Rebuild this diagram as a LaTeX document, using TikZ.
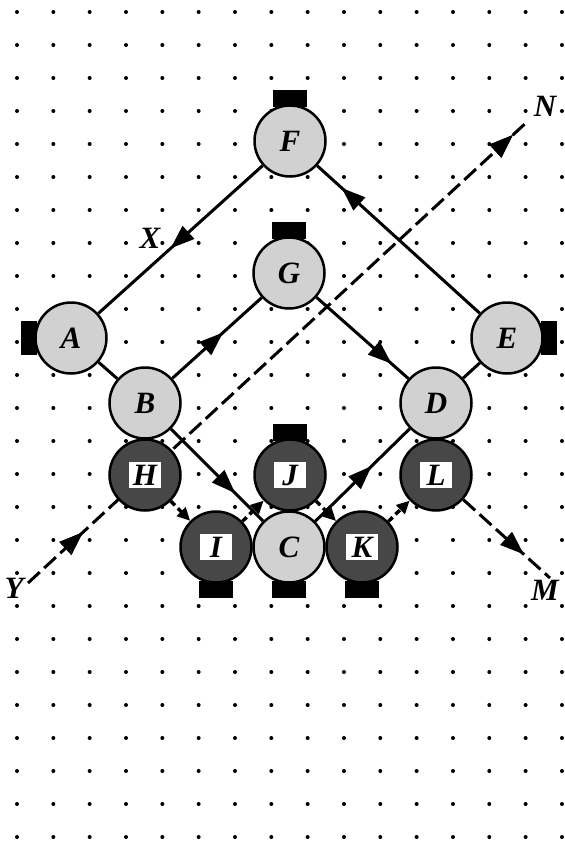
\documentclass[tikz,border=0pt]{standalone}
\usepackage{fontspec}
\setmainfont{Liberation Serif}
\usetikzlibrary{arrows.meta,decorations.markings}
\pgfdeclarelayer{background}
\pgfsetlayers{background,main}
\begin{document}
\begin{tikzpicture}[x=1pt,y=-1pt,
  lettr/.style={font=\fontsize{31}{31}\selectfont\bfseries\itshape},
  lite/.style={circle,draw=black,line width=2.5pt,fill=black!18,minimum size=71pt,inner sep=0pt,lettr},
  dark/.style={circle,draw=black,line width=2.5pt,fill=black!72,minimum size=71pt,inner sep=0pt},
  tagbox/.style={fill=white,inner sep=0pt,minimum width=32pt,minimum height=26pt,lettr},
  caph/.style={fill=black,inner sep=0pt,minimum width=34pt,minimum height=17pt},
  capv/.style={fill=black,inner sep=0pt,minimum width=16pt,minimum height=34pt},
  edgeline/.style={line width=3pt},
  longdash/.style={line width=3pt,dash pattern=on 16pt off 6pt},
  shortdash/.style={line width=3.5pt,dash pattern=on 6pt off 4pt,-{Triangle[length=13pt,width=12pt]}},
  midarrow/.style={postaction={decorate},decoration={markings,mark=at position #1 with {\arrow{Triangle[length=24pt,width=17pt]}}}},
  lbl/.style={lettr,inner sep=0pt}
]
\useasboundingbox (0,0) rectangle (565,841);

% nodes
\node[lite] (F) at (290,141) {F};
\node[lite] (G) at (289,273) {G};
\node[lite] (A) at (71,338) {A};
\node[lite] (E) at (507,338) {E};
\node[lite] (B) at (145,403) {B};
\node[lite] (D) at (436,403) {D};
\node[dark] (H) at (145,475) {};
\node[dark] (J) at (290,475) {};
\node[dark] (L) at (436,475) {};
\node[dark] (I) at (216,547) {};
\node[dark] (K) at (362,547) {};
\node[lite] (C) at (289,547) {C};
\node[tagbox] (Ht) at (H.center) {H};
\node[tagbox] (Jt) at (J.center) {J};
\node[tagbox] (Lt) at (L.center) {L};
\node[tagbox] (It) at (I.center) {I};
\node[tagbox] (Kt) at (K.center) {K};

% black caps
\node[caph,anchor=south] (Fc) at ([yshift=-3pt]F.north) {};
\node[caph,anchor=south] (Gc) at ([yshift=-3pt]G.north) {};
\node[caph,anchor=south] (Jc) at ([yshift=-3pt]J.north) {};
\node[capv,anchor=east] (Ac) at ([xshift=3pt]A.west) {};
\node[capv,anchor=west] (Ec) at ([xshift=-3pt]E.east) {};
\node[caph,anchor=north] (Ic) at ([yshift=3pt]I.south) {};
\node[caph,anchor=north] (Cc) at ([yshift=3pt]C.south) {};
\node[caph,anchor=north] (Kc) at ([yshift=3pt]K.south) {};

% free labels and end points
\node[lbl] (X) at (150,238) {X};
\node[lbl] (N) at (545,106) {N};
\node[lbl] (Y) at (14,588) {Y};
\node[lbl] (M) at (545,590) {M};
\coordinate (Ys) at (28,583);
\coordinate (Ne) at (528,121);
\coordinate (Me) at (550,578);

\begin{pgfonlayer}{background}
\fill[white] (0,0) rectangle (565,841);
\foreach \i in {0,...,15}
  \foreach \j in {0,...,25}
    \fill (17+36.33*\i, 12+33*\j) circle (2pt);
\draw[edgeline,midarrow=0.56] (F) -- (A);
\draw[edgeline,midarrow=0.85] (E) -- (F);
\draw[edgeline] (A) -- (B);
\draw[edgeline,midarrow=0.57] (B) -- (G);
\draw[edgeline,midarrow=0.82] (G) -- (D);
\draw[edgeline] (D) -- (E);
\draw[edgeline,midarrow=0.7] (B) -- (C);
\draw[edgeline,midarrow=0.6] (C) -- (D);
\draw[longdash,midarrow=0.11,midarrow=0.97] (Ys) -- (Ne);
\draw[longdash,midarrow=0.7] (L) -- (Me);
\draw[shortdash] (H) -- (I);
\draw[shortdash] (I) -- (J);
\draw[shortdash] (J) -- (K);
\draw[shortdash] (K) -- (L);
\end{pgfonlayer}
\end{tikzpicture}
\end{document}
